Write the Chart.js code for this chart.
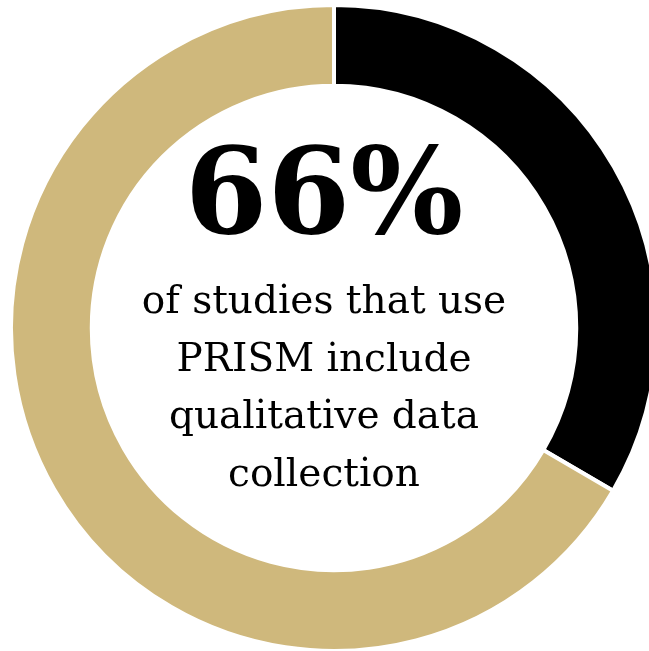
<!DOCTYPE html>
<html>
<head>
<meta charset="utf-8">
<script src="https://cdn.jsdelivr.net/npm/chart.js@4"></script>
<style>
  html, body { margin: 0; padding: 0; background: #fff; overflow: hidden; width: 649px; height: 651px; }
  #wrap { position: absolute; left: 9px; top: 3px; width: 650px; height: 650px; }
</style>
</head>
<body>
<div id="wrap"><canvas id="donut"></canvas></div>
<script>
// --- Chart data ---
const segmentLabels = ['Without qualitative data', 'With qualitative data'];
const segmentValues = [33.4, 66.6];
const segmentColors = ['#000000', '#CFB87C'];

const headline = '66%';
const captionLines = ['of studies that use', 'PRISM include', 'qualitative data', 'collection'];

// draws the big number and caption in the hole
const centerText = {
  id: 'centerText',
  afterDraw(chart) {
    const ctx = chart.ctx;
    const x = 315;
    ctx.save();
    ctx.fillStyle = '#000';
    ctx.textAlign = 'center';
    ctx.textBaseline = 'alphabetic';
    ctx.font = 'bold 119px "DejaVu Serif"';
    ctx.fillText(headline, x, 230);
    ctx.font = '39px "DejaVu Serif"';
    captionLines.forEach((line, i) => {
      ctx.fillText(line, x, 310 + i * 57.5);
    });
    ctx.restore();
  }
};

new Chart(document.getElementById('donut'), {
  type: 'doughnut',
  data: {
    labels: segmentLabels,
    datasets: [{
      data: segmentValues,
      backgroundColor: segmentColors,
      borderColor: '#ffffff',
      borderWidth: 4,
    }],
  },
  options: {
    responsive: true,
    maintainAspectRatio: false,
    animation: false,
    cutout: '75%',
    layout: { padding: 0 },
    plugins: {
      legend: { display: false },
      tooltip: { enabled: false },
    },
  },
  plugins: [centerText],
});
</script>
</body>
</html>
